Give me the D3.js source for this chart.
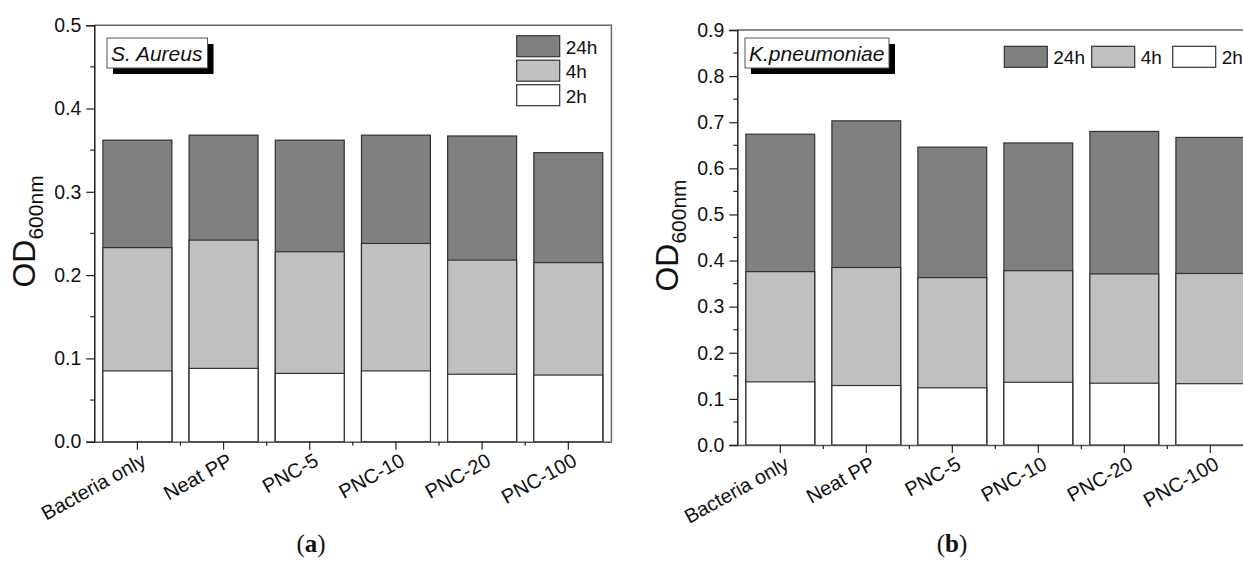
<!DOCTYPE html>
<html>
<head>
<meta charset="utf-8">
<script src="https://cdn.jsdelivr.net/npm/d3@7"></script>
<style>
  body { margin: 0; background: #fff; }
  svg { display: block; overflow: hidden; }
  text { font-family: "Liberation Sans", Arial, sans-serif; fill: #111; }
</style>
</head>
<body>
<svg id="chart" width="1243" height="563"></svg>
<script>
// categories and series
const categories = ["Bacteria only", "Neat PP", "PNC-5", "PNC-10", "PNC-20", "PNC-100"];
const series = ["24h", "4h", "2h"];
const seriesColors = ["#808080", "#c0c0c0", "#ffffff"];

// OD600 readings, S. aureus (panel a)
const aureus24h = [0.362, 0.368, 0.362, 0.368, 0.367, 0.347];
const aureus4h  = [0.233, 0.242, 0.228, 0.238, 0.218, 0.215];
const aureus2h  = [0.085, 0.088, 0.082, 0.085, 0.081, 0.080];

// OD600 readings, K. pneumoniae (panel b)
const kpn24h = [0.674, 0.703, 0.646, 0.655, 0.680, 0.667];
const kpn4h  = [0.376, 0.385, 0.363, 0.378, 0.371, 0.372];
const kpn2h  = [0.137, 0.129, 0.124, 0.136, 0.134, 0.133];

const aureusTicks = [0, 0.1, 0.2, 0.3, 0.4, 0.5];
const kpnTicks = [0, 0.1, 0.2, 0.3, 0.4, 0.5, 0.6, 0.7, 0.8, 0.9];

const svg = d3.select("#chart");

function drawPanel(opt) {
  const g = svg.append("g");
  const x = d3.scaleBand().domain(categories)
    .range([opt.left, opt.right]).paddingInner(0.2).paddingOuter(0.1);
  const y = d3.scaleLinear().domain([0, opt.ymax]).range([opt.bottom, opt.top]);

  // bars: 24h behind, then 4h, then 2h in front
  opt.values.forEach((vals, si) => {
    g.selectAll(".bar" + si)
      .data(vals)
      .enter().append("rect")
      .attr("x", (d, i) => x(categories[i]))
      .attr("y", d => y(d))
      .attr("width", x.bandwidth())
      .attr("height", d => y(0) - y(d))
      .attr("fill", seriesColors[si])
      .attr("stroke", "#333")
      .attr("stroke-width", 1.2);
  });

  // frame (top + right)
  g.append("path")
    .attr("d", `M${opt.left},${opt.top}H${opt.right}V${opt.bottom}`)
    .attr("fill", "none").attr("stroke", "#666").attr("stroke-width", 1.5);

  // y axis
  const yAxis = g.append("g").attr("transform", `translate(${opt.left},0)`)
    .call(d3.axisLeft(y).tickValues(opt.ticks).tickFormat(d3.format(".1f")).tickSize(8).tickPadding(5));
  yAxis.select(".domain").attr("stroke", "#222").attr("stroke-width", 1.5);
  yAxis.selectAll(".tick line").attr("stroke", "#222").attr("stroke-width", 1.2);
  yAxis.selectAll("text").style("font-size", "19.5px").attr("fill", "#111");
  // minor y ticks
  const minor = opt.ticks.slice(0, -1).map(t => t + 0.05);
  g.selectAll(".ymin").data(minor).enter().append("line")
    .attr("x1", opt.left - 4).attr("x2", opt.left)
    .attr("y1", d => y(d)).attr("y2", d => y(d))
    .attr("stroke", "#222").attr("stroke-width", 1.2);

  // x axis
  const xAxis = g.append("g").attr("transform", `translate(0,${opt.bottom})`)
    .call(d3.axisBottom(x).tickSize(8).tickSizeOuter(0).tickFormat(""));
  xAxis.select(".domain").attr("stroke", "#555").attr("stroke-width", 1.5);
  xAxis.selectAll(".tick line").attr("stroke", "#222").attr("stroke-width", 1.2);
  // minor x ticks at band boundaries
  const bounds = d3.range(1, categories.length).map(i => opt.left + i * x.step());
  g.selectAll(".xmin").data(bounds).enter().append("line")
    .attr("x1", d => d).attr("x2", d => d)
    .attr("y1", opt.bottom).attr("y2", opt.bottom + 4)
    .attr("stroke", "#222").attr("stroke-width", 1.2);
  // rotated category labels
  g.selectAll(".xlab").data(categories).enter().append("text")
    .attr("transform", d => `translate(${x(d) + x.bandwidth() / 2 + 10},${opt.bottom + 23}) rotate(-29)`)
    .attr("text-anchor", "end")
    .style("font-size", "20px")
    .text(d => d);

  // y axis title
  const yt = g.append("text")
    .attr("transform", `translate(${opt.ytitleX},${(opt.top + opt.bottom) / 2 - 2}) rotate(-90)`)
    .attr("text-anchor", "middle");
  yt.append("tspan").style("font-size", "32px").text("OD");
  yt.append("tspan").style("font-size", "21px").attr("dy", 8).text("600nm");

  // organism label with shadow
  const b = opt.box;
  g.append("rect").attr("x", b.x + 6).attr("y", b.y + 6).attr("width", b.w).attr("height", 30).attr("fill", "#000");
  g.append("rect").attr("x", b.x).attr("y", b.y).attr("width", b.w).attr("height", 30)
    .attr("fill", "#fff").attr("stroke", "#555").attr("stroke-width", 1);
  g.append("text").attr("x", b.x + 4).attr("y", b.y + 23)
    .style("font-size", "21px").style("font-style", "italic").text(opt.name);

  // legend
  const lg = g.append("g");
  series.forEach((s, i) => {
    const p = opt.legendPos(i);
    lg.append("rect").attr("x", p[0]).attr("y", p[1]).attr("width", 43).attr("height", 21)
      .attr("fill", seriesColors[i]).attr("stroke", "#333").attr("stroke-width", 1.2);
    lg.append("text").attr("x", p[0] + 49).attr("y", p[1] + 18)
      .style("font-size", "19px").text(s);
  });

  // caption
  const cap = g.append("text").attr("x", opt.capX).attr("y", 552)
    .attr("text-anchor", "middle")
    .style("font-family", "'Liberation Serif', 'Times New Roman', serif")
    .style("font-size", "25px");
  cap.append("tspan").text("(");
  cap.append("tspan").style("font-weight", "bold").text(opt.capLetter);
  cap.append("tspan").text(")");
}

drawPanel({
  left: 94.3, right: 611.4, top: 25.2, bottom: 441.7, ymax: 0.5,
  ticks: aureusTicks, values: [aureus24h, aureus4h, aureus2h],
  ytitleX: 35, name: "S. Aureus", box: { x: 107, y: 38, w: 100.5 },
  legendPos: i => [516.7, 35.7 + i * 24.5],
  capX: 311, capLetter: "a"
});

drawPanel({
  left: 737.3, right: 1253.3, top: 30, bottom: 445, ymax: 0.9,
  ticks: kpnTicks, values: [kpn24h, kpn4h, kpn2h],
  ytitleX: 678, name: "K.pneumoniae", box: { x: 745, y: 38, w: 144 },
  legendPos: i => [[1004.3, 1091.7, 1172.7][i], 46.3],
  capX: 952, capLetter: "b"
});
</script>
</body>
</html>
